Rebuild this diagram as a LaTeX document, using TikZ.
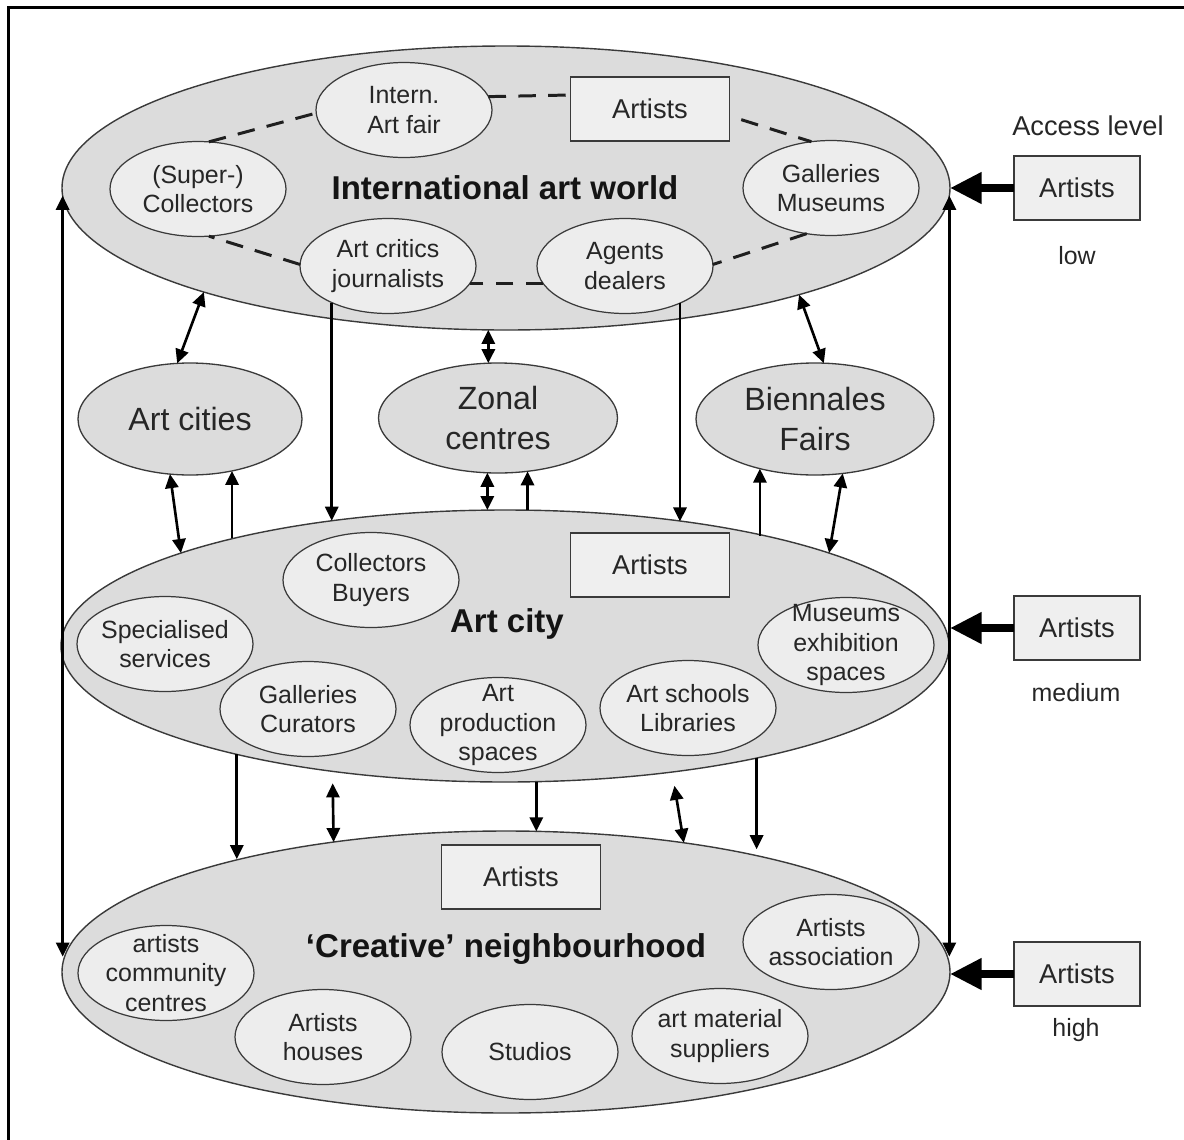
\documentclass[tikz,border=0pt]{standalone}
\usepackage{fontspec}
\setmainfont{Liberation Sans}
\usetikzlibrary{shapes.geometric,arrows.meta}
\definecolor{bigfill}{HTML}{DCDCDC}
\definecolor{infill}{HTML}{EDEDED}
\definecolor{boxfill}{HTML}{EFEFEF}
\definecolor{edge}{HTML}{3A3A3A}
\definecolor{txt}{HTML}{262626}
\begin{document}
\begin{tikzpicture}[x=0.02cm,y=-0.02cm,
  every node/.style={inner sep=0pt,outer sep=0pt,text=txt},
  smalltxt/.style={align=center,font=\fontsize{14.2}{16.8}\selectfont,text=txt},
  midtxt/.style={align=center,font=\fontsize{18.3}{22.6}\selectfont,text=txt},
  titletxt/.style={font=\bfseries\fontsize{18.8}{22}\selectfont,text=black!92},
  boxtxt/.style={font=\fontsize{15.5}{18}\selectfont},
  bigell/.style={ellipse,draw=edge,line width=0.8pt,fill=bigfill,
    minimum width=888*0.02cm,minimum height=#1*0.02cm},
  midell/.style n args={3}{ellipse,draw=edge,line width=0.75pt,fill=bigfill,
    minimum width=#1*0.02cm,minimum height=#2*0.02cm,label={[midtxt]center:#3}},
  inell/.style={ellipse,draw=edge,line width=0.7pt,fill=infill,
    minimum width=176*0.02cm,minimum height=95*0.02cm,label={[smalltxt]center:#1}},
  artbox/.style={rectangle,draw=edge,line width=0.8pt,fill=boxfill,boxtxt,
    minimum width=159*0.02cm,minimum height=64*0.02cm},
  rbox/.style={rectangle,draw=edge,line width=0.8pt,fill=boxfill,boxtxt,
    minimum width=126*0.02cm,minimum height=64*0.02cm},
  dlink/.style={draw=black!88,line width=1.7pt,dash pattern=on 10pt off 7pt},
  arr/.style={draw=black,line width=1.5pt,-{Triangle[length=8pt,width=7.5pt]}},
  darr/.style={draw=black,line width=1.5pt,{Triangle[length=8pt,width=7.5pt]}-{Triangle[length=8pt,width=7.5pt]}},
  bigarr/.style={draw=black,line width=4.4pt,-{Triangle[length=18pt,width=17pt]}}
]
\useasboundingbox (0,0) rectangle (1184,1140);
% frame
\draw[line width=1.2pt] (8.5,1140) -- (8.5,7.5) -- (1184,7.5);

% big ellipses
\node[bigell=284] (T) at (506,188) {};
\node[bigell=272] (A) at (505,646) {};
\node[bigell=282] (C) at (506,972) {};

% middle ellipses
\node[midell={224}{112}{Art cities}] (AC) at (190,419) {};
\node[midell={239}{110}{Zonal\\centres}] (Z) at (498,418) {};
\node[midell={238}{112}{Biennales\\Fairs}] (B) at (815,419) {};

% titles
\node[titletxt] (tT) at (505,188) {International art world};
\node[titletxt] (tA) at (507,624) {Art city};
\node[titletxt] (tC) at (506,949) {‘Creative’ neighbourhood};

% international art world
\node[inell={Intern.\\Art fair}] (intern) at (404,110) {};
\node[artbox] (aT) at (650,109) {Artists};
\node[inell={(Super-)\\Collectors}] (coll) at (198,189) {};
\node[inell={Galleries\\Museums}] (gal) at (831,188) {};
\node[inell={Art critics\\journalists}] (crit) at (388,266) {};
\node[inell={Agents\\dealers}] (agent) at (625,266) {};

% art city
\node[inell={Collectors\\Buyers}] (buyers) at (371,580) {};
\node[artbox] (aA) at (650,565) {Artists};
\node[inell={Specialised\\services}] (spec) at (165,644) {};
\node[inell={Museums\\exhibition\\spaces}] (mus) at (846,645) {};
\node[inell={Galleries\\Curators}] (galc) at (308,709) {};
\node[inell={Art\\production\\spaces}] (prod) at (498,725) {};
\node[inell={Art schools\\Libraries}] (schools) at (688,708) {};

% creative neighbourhood
\node[artbox] (aC) at (521,877) {Artists};
\node[inell={artists\\community\\centres}] (comm) at (166,973) {};
\node[inell={Artists\\association}] (assoc) at (831,942) {};
\node[inell={Artists\\houses}] (houses) at (323,1037) {};
\node[inell={Studios}] (studios) at (530,1052) {};
\node[inell={art material\\suppliers}] (mater) at (720,1036) {};

% access level column
\node[boxtxt] (acc) at (1088,126) {Access level};
\node[rbox] (r1) at (1077,188) {Artists};
\node[rbox] (r2) at (1077,628) {Artists};
\node[rbox] (r3) at (1077,974) {Artists};
\node[smalltxt] (low) at (1077,256) {low};
\node[smalltxt] (med) at (1076,693) {medium};
\node[smalltxt] (high) at (1076,1030) {high};

% dashed network
\draw[dlink] (coll.77) -- (intern.182);
\draw[dlink] (intern.9) -- (aT.170);
\draw[dlink,shorten <=7pt] (aT.-5) -- (gal.113);
\draw[dlink] (gal.242) -- (agent.1);
\draw[dlink] (agent.192) -- (crit.348);
\draw[dlink] (crit.179) -- (coll.283);

% long side links
\draw[darr] (T.181.3) -- (C.178 -| T.181.3);
\draw[darr] (T.-1) -- (C.2.5 -| T.-1);

% access arrows
\draw[bigarr] (r1.west) -- (r1.west -| T.east);
\draw[bigarr] (r2.west) -- (r2.west -| T.east);
\draw[bigarr] (r3.west) -- (r3.west -| T.east);

% top <-> middle
\draw[darr] (AC.103.2) -- (T.199.7);
\draw[arr] (crit.213.2) -- (A.144.1 -| crit.213.2);
\draw[darr] (T.262.8 -| Z.100.3) -- (Z.100.3);
\draw[arr] (agent.326.9) -- (A.35.3 -| agent.326.9);
\draw[darr] (T.340.4) -- (B.81.8);

% middle <-> art city
\draw[darr] (AC.250) -- (A.164.8);
\draw[arr] (A.158.6 -| AC.309) -- (AC.309);
\draw[darr] (Z.259.7) -- (A.97.1 -| Z.259.7);
\draw[arr] (A.80.4 -| Z.299.4) -- (Z.299.4);
\draw[arr] (A.23.56 -| B.222.1) -- (B.222.1);
\draw[darr] (B.297.2) -- (A.16.4);

% art city <-> creative
\draw[arr] (A.202) -- (C.157.4 -| A.202);
\draw[darr,shorten <=12*0.02cm] (A.216.8) -- (C.143.1);
\draw[arr] (A.283.7) -- (C.77.2 -| A.283.7);
\draw[darr,shorten <=14*0.02cm] (A.323.9) -- (C.36.7);
\draw[arr,shorten >=8*0.02cm] (A.336.3) -- (C.24.6 -| A.336.3);
\end{tikzpicture}
\end{document}
